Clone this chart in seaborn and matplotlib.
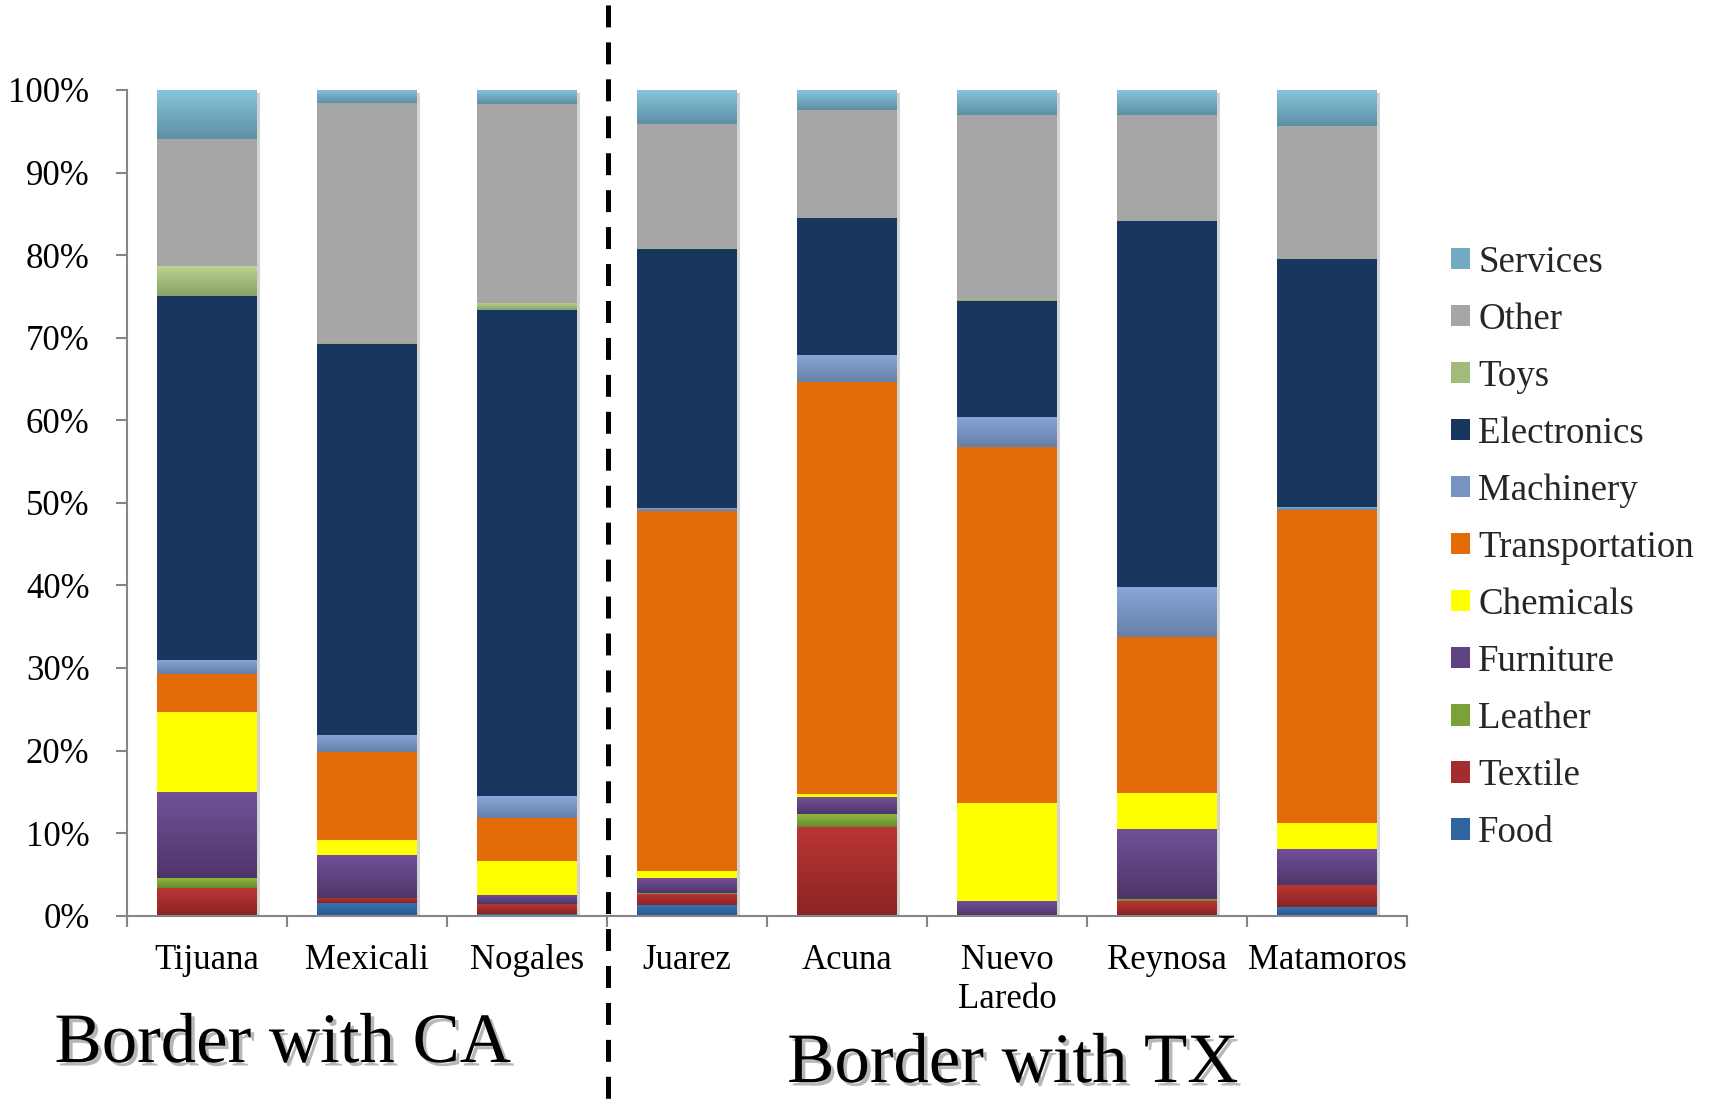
import numpy as np
import matplotlib
matplotlib.use("Agg")
import matplotlib.pyplot as plt
import seaborn as sns
from matplotlib.patches import Patch
from matplotlib.lines import Line2D
from matplotlib import patheffects as pe
from matplotlib.colors import to_rgb

# ---- data: share of maquiladora employment by sector (%) ----
cities = ["Tijuana", "Mexicali", "Nogales", "Juarez", "Acuna",
          "Nuevo\nLaredo", "Reynosa", "Matamoros"]

food           = [0.10, 1.50, 0.20, 1.30, 0.00, 0.00, 0.10, 1.05]
textile        = [3.25, 0.70, 1.20, 1.35, 10.75, 0.00, 1.70, 2.65]
leather        = [1.20, 0.00, 0.00, 0.10, 1.55, 0.00, 0.25, 0.00]
furniture      = [10.40, 5.20, 1.10, 1.80, 2.05, 1.80, 8.50, 4.35]
chemicals      = [9.70, 1.80, 4.10, 0.85, 0.40, 11.90, 4.35, 3.15]
transportation = [4.60, 10.60, 5.25, 43.60, 49.90, 43.10, 18.90, 37.95]
machinery      = [1.70, 2.10, 2.60, 0.40, 3.25, 3.65, 6.05, 0.30]
electronics    = [44.10, 47.30, 58.85, 31.40, 16.60, 13.95, 44.35, 30.05]
toys           = [3.60, 0.15, 0.85, 0.10, 0.00, 0.30, 0.00, 0.00]
other          = [15.40, 29.00, 24.10, 15.00, 13.10, 22.30, 12.85, 16.10]
services       = [5.90, 1.60, 1.70, 4.10, 2.40, 3.00, 3.00, 4.35]

ytick_labels = ["0%", "10%", "20%", "30%", "40%", "50%",
                "60%", "70%", "80%", "90%", "100%"]

# stacking order, bottom to top
sectors = ["Food", "Textile", "Leather", "Furniture", "Chemicals",
           "Transportation", "Machinery", "Electronics", "Toys", "Other",
           "Services"]
series = dict(zip(sectors, [food, textile, leather, furniture, chemicals,
                            transportation, machinery, electronics, toys,
                            other, services]))

# (top colour, bottom colour) of each fill; equal pairs are flat fills
fills = {
    "Food":           ("#3672B4", "#2A568C"),
    "Textile":        ("#BA3634", "#8A2423"),
    "Leather":        ("#8EB740", "#6A8A2E"),
    "Furniture":      ("#71519A", "#4E3568"),
    "Chemicals":      ("#FFFF00", "#FFFF00"),
    "Transportation": ("#E36C09", "#E36C09"),
    "Machinery":      ("#88A6D8", "#6680A8"),
    "Electronics":    ("#17375E", "#17375E"),
    "Toys":           ("#B9D58F", "#8AA168"),
    "Other":          ("#A6A6A6", "#A6A6A6"),
    "Services":       ("#86C5DC", "#5E90A5"),
}

def mid(c1, c2):
    a, b = np.array(to_rgb(c1)), np.array(to_rgb(c2))
    return tuple((a + b) / 2)

# ---- style ----
sns.set_theme(style="white")
plt.rcParams["font.family"] = ["Liberation Serif", "DejaVu Serif"]
axis_grey = "#868686"

W, H = 1719, 1102
fig = plt.figure(figsize=(W / 100, H / 100), dpi=100)
ax_l, ax_r, ax_t, ax_b = 127, 1407, 90, 915.7
ax = fig.add_axes([ax_l / W, 1 - ax_b / H, (ax_r - ax_l) / W, (ax_b - ax_t) / H])

bar_w = 0.62
totals = np.sum([series[s] for s in sectors], axis=0)

# soft shadow behind each full column
sns.barplot(x=cities, y=np.ones(len(cities)), color="white", saturation=1,
            width=bar_w, errorbar=None, ax=ax, linewidth=0, zorder=1,
            path_effects=[pe.SimplePatchShadow(offset=(2.5, -2.5),
                                               shadow_rgbFace="#7f7f7f",
                                               alpha=0.35)])

def paint_gradient(patch, top, bot):
    h = patch.get_height()
    if h <= 0:
        return
    x0, y0, w = patch.get_x(), patch.get_y(), patch.get_width()
    t = np.linspace(0, 1, 128)[:, None, None]
    img = (1 - t) * np.array(to_rgb(top)) + t * np.array(to_rgb(bot))
    im = ax.imshow(img, extent=(x0, x0 + w, y0, y0 + h), aspect="auto",
                   origin="upper", interpolation="bilinear",
                   zorder=patch.get_zorder() + 0.01)
    im.set_clip_path(patch)

bottom = np.zeros(len(cities))
for s in sectors:
    share = np.array(series[s]) / totals
    top_c, bot_c = fills[s]
    n0 = len(ax.patches)
    sns.barplot(x=cities, y=share, bottom=bottom, color=mid(top_c, bot_c),
                saturation=1, width=bar_w, errorbar=None, ax=ax,
                linewidth=0, zorder=2)
    if top_c != bot_c:
        for p in ax.patches[n0:]:
            paint_gradient(p, top_c, bot_c)
    bottom += share

# ---- axes ----
ax.set_xlim(-0.5, len(cities) - 0.5)
ax.set_ylim(0, 1)
ax.set_xlabel("")
ax.set_ylabel("")
ax.set_yticks(np.linspace(0, 1, 11))
ax.set_yticklabels(ytick_labels)
ax.set_xticks(range(len(cities)))
ax.set_xticklabels(cities, linespacing=1.22)
ax.set_xticks(np.arange(-0.5, len(cities)), minor=True)
for side in ("top", "right"):
    ax.spines[side].set_visible(False)
for side in ("left", "bottom"):
    ax.spines[side].set_color(axis_grey)
    ax.spines[side].set_linewidth(1.5)
ax.tick_params(axis="y", which="major", direction="out", length=8, width=1.5,
               color=axis_grey, labelsize=25, pad=19, left=True)
ax.tick_params(axis="x", which="major", length=0, labelsize=25, pad=20.5,
               bottom=True)
ax.tick_params(axis="x", which="minor", direction="out", length=8, width=1.5,
               color=axis_grey, bottom=True)
for lab in ax.get_yticklabels() + ax.get_xticklabels():
    lab.set_color("black")

# ---- legend ----
handles = [Patch(facecolor=mid(*fills[s]), edgecolor="none")
           for s in reversed(sectors)]
fig.legend(handles, list(reversed(sectors)), loc="center left",
           bbox_to_anchor=(1451 / W, 1 - 547.5 / H), frameon=False,
           fontsize=26.6, handlelength=0.52, handleheight=0.52,
           handletextpad=0.22, labelspacing=0.61, borderpad=0,
           borderaxespad=0)

# ---- divider between the two border groups ----
lw = 3.6
fig.add_artist(Line2D([607.5 / W, 607.5 / W], [1, 0], transform=fig.transFigure,
                      color="black", lw=lw,
                      linestyle=(6.4, (15.8 / lw, 10.8 / lw))))

# ---- group titles ----
shadow = [pe.withSimplePatchShadow(offset=(2.5, -2.5), shadow_rgbFace="#707070",
                                   alpha=0.5)]
fig.text(283 / W, 1 - 1062 / H, "Border with CA", fontsize=51, ha="center",
         va="baseline", color="black", path_effects=shadow)
fig.text(1013 / W, 1 - 1082 / H, "Border with TX", fontsize=51, ha="center",
         va="baseline", color="black", path_effects=shadow)

fig.savefig("out.png", dpi=100)
